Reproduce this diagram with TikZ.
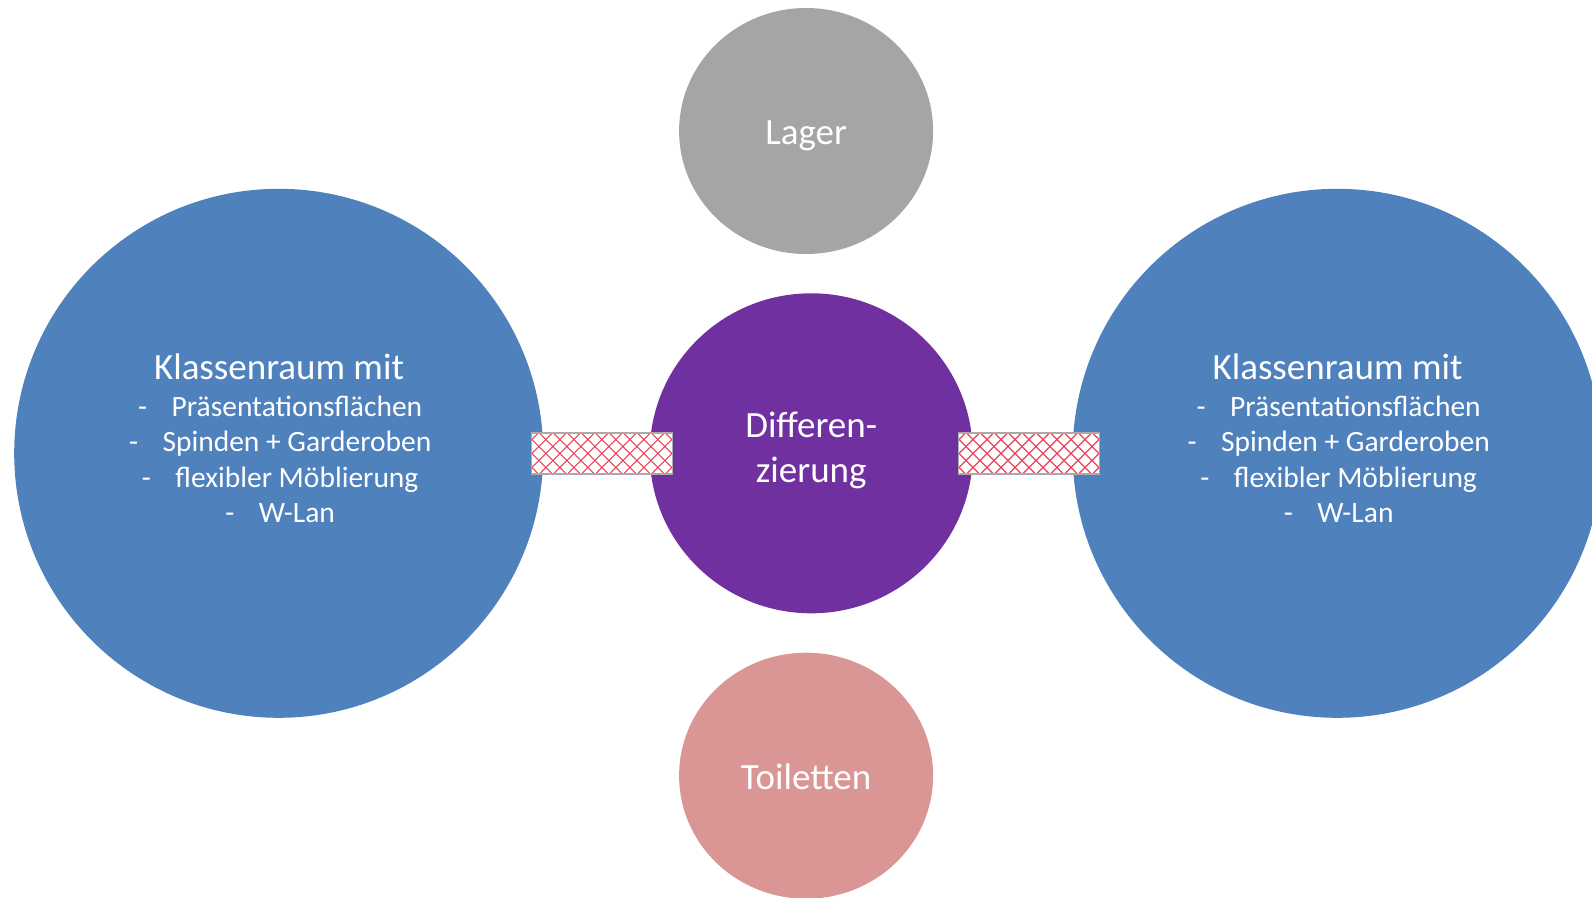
\documentclass[tikz,border=0pt]{standalone}
\usepackage{fontspec}
\setmainfont{Carlito}
\usetikzlibrary{shapes.geometric}
\definecolor{blueC}{HTML}{4F81BD}
\definecolor{purpleC}{HTML}{7030A0}
\definecolor{greyC}{HTML}{A5A5A5}
\definecolor{pinkC}{HTML}{D99694}
\definecolor{hatchC}{RGB}{232,70,90}
\definecolor{boxC}{RGB}{170,170,170}
\newcommand{\bigfont}{\fontsize{37}{44.6}\selectfont}
\newcommand{\smallfont}{\fontsize{29.5}{35.3}\selectfont}
\newcommand{\dashitem}[1]{-\hspace{24.5pt}#1}
\tikzset{
  disc/.style={ellipse, draw=none, inner sep=0pt},
  bigtxt/.style={text=white, font=\bigfont, anchor=base, inner sep=0pt},
  smalltxt/.style={text=white, font=\smallfont, anchor=base, inner sep=0pt},
  hatchbox/.style={rectangle, draw=boxC, line width=1.2pt, fill=white,
    minimum width=141pt, minimum height=41pt, inner sep=0pt,
    path picture={
      \begin{scope}[shift={(path picture bounding box.center)}]
        \foreach \i in {-168,-154,...,168}{
          \draw[hatchC, line width=1.1pt] (\i-90,-90) -- (\i+90,90);
          \draw[hatchC, line width=1.1pt] (\i+90,-90) -- (\i-90,90);
        }
      \end{scope}
    }}
}
\begin{document}
\begin{tikzpicture}[x=1pt,y=-1pt]
\clip (0,0) rectangle (1592,897);
\fill[white] (0,0) rectangle (1592,897);
% discs
\node[disc, fill=blueC, minimum width=529pt, minimum height=529pt] (left) at (278.7,453.3) {};
\node[disc, fill=blueC, minimum width=529pt, minimum height=529pt] (right) at (1337.2,453.3) {};
\node[disc, fill=greyC, minimum width=254pt, minimum height=246pt] (lager) at (806.1,131) {};
\node[disc, fill=purpleC, minimum width=323pt, minimum height=320pt] (diff) at (811.2,453.3) {};
\node[disc, fill=pinkC, minimum width=254pt, minimum height=246pt] (toil) at (806.1,775.7) {};
% texts
\node[bigtxt] (lagerT) at (806.1,144.7) {Lager};
\node[bigtxt] (toilT) at (806.1,789.2) {Toiletten};
\node[bigtxt] (diffT1) at (811.2,437.5) {Differen-};
\node[bigtxt] (diffT2) at (811.2,482.1) {zierung};
\node[bigtxt] (lt) at (279,379) {Klassenraum mit};
\node[smalltxt] (l1) at (280.2,416.5) {\dashitem{Präsentationsflächen}};
\node[smalltxt] (l2) at (280.2,451.8) {\dashitem{Spinden + Garderoben}};
\node[smalltxt] (l3) at (280.2,487.1) {\dashitem{flexibler Möblierung}};
\node[smalltxt] (l4) at (280.2,522.4) {\dashitem{W-Lan}};
\node[bigtxt] (rt) at (1337.5,379) {Klassenraum mit};
\node[smalltxt] (r1) at (1338.7,416.5) {\dashitem{Präsentationsflächen}};
\node[smalltxt] (r2) at (1338.7,451.8) {\dashitem{Spinden + Garderoben}};
\node[smalltxt] (r3) at (1338.7,487.1) {\dashitem{flexibler Möblierung}};
\node[smalltxt] (r4) at (1338.7,522.4) {\dashitem{W-Lan}};
% hatched links
\node[hatchbox] (hl) at (601.8,453.5) {};
\node[hatchbox] (hr) at (1029,453.5) {};
\end{tikzpicture}
\end{document}
